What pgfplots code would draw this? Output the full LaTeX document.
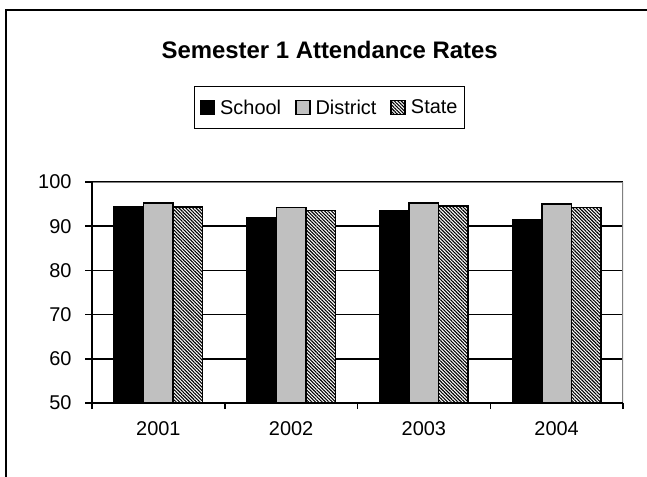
\documentclass[border=0pt]{standalone}
\usepackage{fontspec}
\setmainfont{Liberation Sans}
\usepackage{pgfplots}
\pgfplotsset{compat=1.18}
\usetikzlibrary{patterns.meta}

\definecolor{distgray}{RGB}{192,192,192}
\definecolor{bordergray}{RGB}{128,128,128}

\begin{document}
\begin{tikzpicture}
\path[use as bounding box, clip] (0,0) rectangle (647bp,-477bp);
\fill[white] (0,0) rectangle (647bp,-477bp);
% chart frame (runs off the right and bottom edges)
\draw[line width=2bp] (6bp,-700bp) |- (900bp,-10bp);
\node[anchor=base, inner sep=0, font=\fontsize{24}{28}\selectfont\bfseries]
  at (329.7bp,-58.3bp) {Semester 1 Attendance Rates};

\begin{axis}[
    at={(92bp,-403bp)}, anchor=south west,
    scale only axis, width=531bp, height=221bp,
    ybar=0pt, bar width=29.5bp,
    xmin=-0.5, xmax=3.5, ymin=50, ymax=100,
    xtick={0,1,2,3},
    xticklabels={2001,2002,2003,2004},
    minor xtick={-0.5,0.5,1.5,2.5,3.5},
    major x tick style={draw=none},
    ytick={50,60,70,80,90,100},
    axis x line*=bottom, axis y line*=left,
    axis line style={black, line width=1.5bp},
    tick align=outside,
    major tick length=7bp, minor tick length=6bp,
    every tick/.style={black, line width=1.5bp},
    ymajorgrids, grid style={black, line width=1.5bp},
    /pgf/number format/assume math mode=true,
    tick label style={font=\fontsize{20}{24}\selectfont},
    yticklabel style={xshift=-10bp},
    xticklabel style={yshift=-8bp},
    legend columns=-1,
    legend style={at={(axis description cs:0.192,1.435)}, anchor=north west,
        draw=black, line width=1.5bp, inner xsep=5bp, inner ysep=11bp,
        font=\fontsize{20}{24}\selectfont,
        /tikz/every odd column/.append style={column sep=3bp},
        /tikz/every even column/.append style={column sep=12bp}},
    legend image code/.code={\draw[#1, line width=1.5bp] (0bp,-7bp) rectangle (14bp,7bp);},
]
\addplot[fill=black, draw=black, line width=1.5bp]
  coordinates {(0,94.3) (1,91.9) (2,93.4) (3,91.5)};
\addlegendentry{School}
\addplot[fill=distgray, draw=black, line width=1.5bp]
  coordinates {(0,95.2) (1,94.2) (2,95.2) (3,95.0)};
\addlegendentry{District}
\addplot[fill=white, draw=black, line width=1.5bp,
    postaction={pattern={Lines[angle=-45, distance=2.4bp, line width=1.1bp]}}]
  coordinates {(0,94.4) (1,93.5) (2,94.6) (3,94.2)};
\addlegendentry{State}
\draw[bordergray, line width=2bp] (rel axis cs:0,1) -- (rel axis cs:1,1) -- (rel axis cs:1,0);
\draw[black, line width=1.5bp] (rel axis cs:0,1) -- (rel axis cs:0,0) -- (rel axis cs:1,0);
\end{axis}
\end{tikzpicture}
\end{document}
